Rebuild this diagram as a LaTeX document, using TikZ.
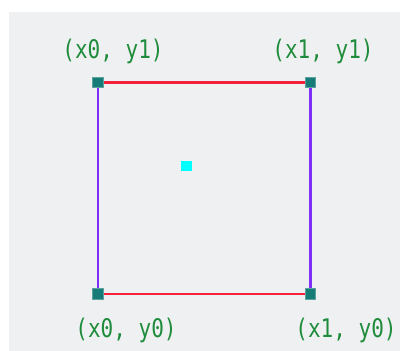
\documentclass[tikz,border=0pt]{standalone}
\usepackage{fontspec}
\newfontfamily\monofont{DejaVu Sans Mono}
\usepackage{graphicx}
\definecolor{bggray}{HTML}{EFF0F2}
\definecolor{edgered}{HTML}{F4203C}
\definecolor{edgepurple}{HTML}{7B2FF7}
\definecolor{cornerteal}{HTML}{167C78}
\definecolor{labelgreen}{HTML}{1E8C3A}
\definecolor{centrecyan}{HTML}{00FFFF}
\tikzset{
  corner/.style={draw=cornerteal!70!white, line width=0.6pt, fill=cornerteal, minimum size=10.5pt, inner sep=0pt, rectangle},
  centre/.style={fill=centrecyan, minimum size=10.5pt, inner sep=0pt, rectangle},
  hedge/.style={draw=edgered, line width=2.2pt},
  vedge/.style={draw=edgepurple, line width=2.2pt},
  lbl/.style={text=labelgreen, inner sep=0pt, font=\monofont\fontsize{21}{21}\selectfont}
}
\newcommand{\tallmono}[1]{\scalebox{1}[1.22]{#1}}
\begin{document}
\begin{tikzpicture}[x=1pt,y=-1pt]
\useasboundingbox (0,0) rectangle (400,351);
\fill[white] (0,0) rectangle (400,351);
\fill[bggray] (9,12) rectangle (400,351);
\coordinate (c00) at (98,294);
\coordinate (c10) at (310.5,294);
\coordinate (c01) at (98,82.5);
\coordinate (c11) at (310.5,82.5);
\draw[hedge] (c01) -- (c11);
\draw[hedge] (c00) -- (c10);
\draw[vedge] (c01) -- (c00);
\draw[vedge] (c11) -- (c10);
\node[corner] (n00) at (c00) {};
\node[corner] (n10) at (c10) {};
\node[corner] (n01) at (c01) {};
\node[corner] (n11) at (c11) {};
\node[centre] (mid) at (186.3,166) {};
\node[lbl] (l01) at (113,51) {\tallmono{(x0, y1)}};
\node[lbl] (l11) at (323,51) {\tallmono{(x1, y1)}};
\node[lbl] (l00) at (126,330.5) {\tallmono{(x0, y0)}};
\node[lbl] (l10) at (346,330) {\tallmono{(x1, y0)}};
\end{tikzpicture}
\end{document}
